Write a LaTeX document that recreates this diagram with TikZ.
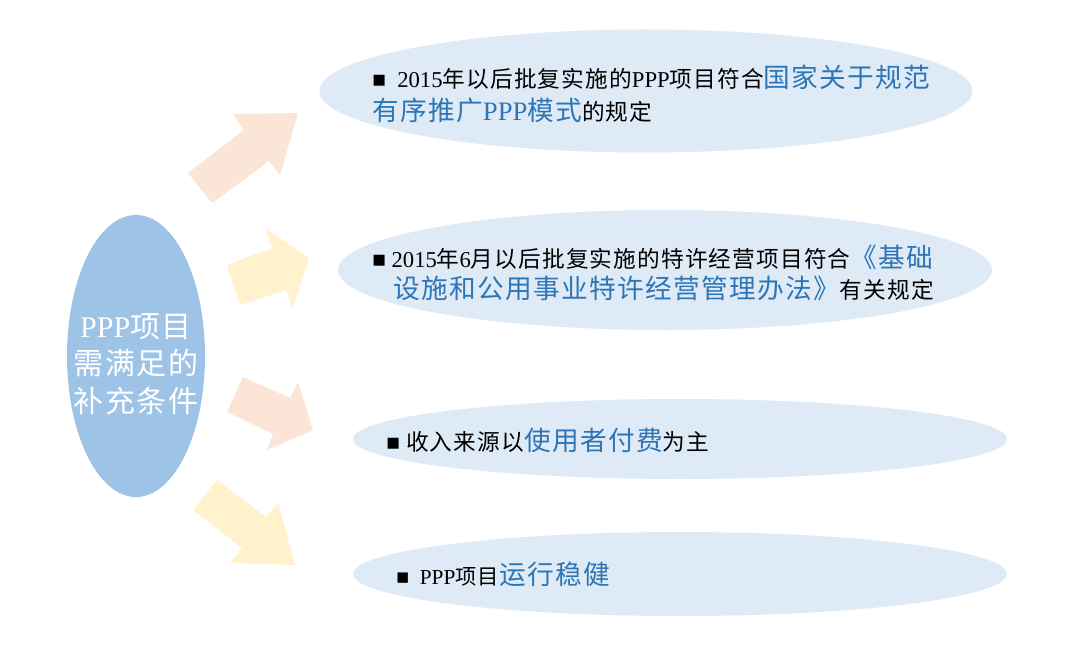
\documentclass[tikz,border=0pt]{standalone}
\usepackage{fontspec}
\usetikzlibrary{shapes.geometric}
\setmainfont{Noto Sans CJK SC}[LetterSpace=5]
\newfontfamily\lat{Liberation Serif}
\definecolor{hl}{HTML}{2E75B6}
\definecolor{bubfill}{HTML}{DEEBF7}
\definecolor{cfill}{HTML}{9DC3E6}
\definecolor{peach}{HTML}{FBE5D6}
\definecolor{cream}{HTML}{FFF2CC}
\newcommand\bl[1]{{\color{hl}\fontsize{20}{24}\selectfont #1}}
\tikzset{
  bub/.style={ellipse, fill=bubfill, inner sep=0pt, draw=none},
  txt/.style={anchor=west, inner sep=0pt, font=\fontsize{17}{20}\selectfont},
}
\begin{document}
\begin{tikzpicture}[x=0.75pt,y=-0.75pt]
\useasboundingbox (0,0) rectangle (1080,659);
\fill[white] (0,0) rectangle (1080,659);
% arrows
\fill[peach] (188,173) -- (244,130) -- (233,114) -- (298,113) -- (280,175) -- (269,161) -- (212,203) -- cycle;
\fill[cream] (227,265) -- (272,248) -- (265,228) -- (309,258) -- (293,308) -- (286,290) -- (240,305) -- cycle;
\fill[peach] (243,377) -- (290,398) -- (298,382) -- (313,430) -- (267,450) -- (273,434) -- (227,412) -- cycle;
\fill[cream] (217,480) -- (266,517) -- (278,503) -- (295,565) -- (230,563) -- (242,548) -- (193,510) -- cycle;
% centre ellipse
\node[ellipse, fill=cfill, inner sep=0pt, minimum width=103.5pt, minimum height=211.5pt] (c) at (136,356) {};
\node[text=white, inner sep=0pt, align=center, font=\fontsize{22.5}{28}\selectfont] (ct) at (136,364)
  {{\lat PPP}项目\\需满足的\\补充条件};
% bubbles
\node[bub, minimum width=489.75pt, minimum height=92.25pt] (e1) at (646,91) {};
\node[bub, minimum width=490.5pt, minimum height=90pt] (e2) at (665,270) {};
\node[bub, minimum width=490.5pt, minimum height=60pt] (e3) at (680,439) {};
\node[bub, minimum width=490.5pt, minimum height=63pt] (e4) at (680,574) {};
% texts
\node[txt] (t1a) at (372,77) {{\lat ■\ \ 2015}年以后批复实施的{\lat PPP}项目符合\bl{国家关于规范}};
\node[txt] (t1b) at (372,110) {\bl{有序推广{\lat PPP}模式}的规定};
\node[txt] (t2a) at (372,257) {{\lat ■ 2015}年{\lat 6}月以后批复实施的特许经营项目符合\bl{《基础}};
\node[txt] (t2b) at (393,288) {\bl{设施和公用事业特许经营管理办法》}有关规定};
\node[txt] (t3) at (386,440) {{\lat ■} 收入来源以\bl{使用者付费}为主};
\node[txt, font=\fontsize{16}{20}\selectfont] (t4) at (396,574) {{\lat ■\ \ PPP}项目\bl{运行稳健}};
\end{tikzpicture}
\end{document}
